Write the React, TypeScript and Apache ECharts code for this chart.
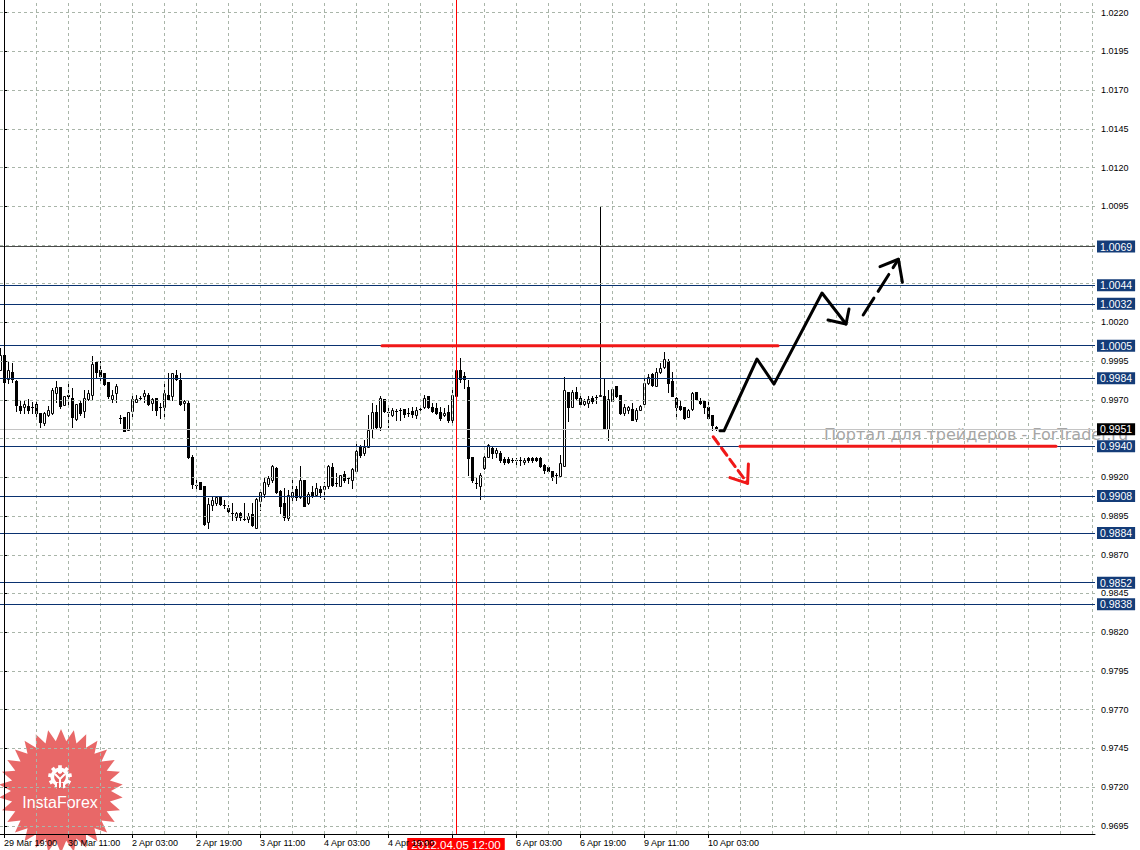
import React, { useEffect, useRef } from "react";
import * as echarts from "echarts";

// ---------- data (EUR/CHF H1, 29 Mar – 10 Apr 2012) ----------
// bar index 0 = 29 Mar 19:00; first visible bar is index -1 (29 Mar 18:00)
const firstBar = -1;
// each entry: [open, close, low, high]
const mar29 = [
  [0.99893, 0.9999, 0.99893, 1.00033],
  [0.9999, 0.99818, 0.99818, 1.00001],
  [0.99833, 0.99893, 0.99807, 0.99947],
  [0.99878, 0.99833, 0.99818, 0.99936],
  [0.99823, 0.99668, 0.99629, 0.99829],
  [0.99661, 0.99636, 0.99618, 0.99694],
];
const mar30 = [
  [0.99651, 0.99674, 0.99618, 0.99694],
  [0.99661, 0.99636, 0.99618, 0.99704],
  [0.99657, 0.99657, 0.99618, 0.99689],
  [0.99674, 0.99618, 0.99586, 0.99689],
  [0.99618, 0.9956, 0.99524, 0.99618],
  [0.9955, 0.99618, 0.99539, 0.99625],
  [0.99603, 0.99636, 0.99597, 0.99661],
  [0.99618, 0.99764, 0.9961, 0.99775],
  [0.99747, 0.99786, 0.99689, 0.99823],
  [0.99786, 0.99661, 0.99646, 0.99786],
  [0.99668, 0.99726, 0.99668, 0.99726],
  [0.99732, 0.99722, 0.99657, 0.99823],
  [0.99711, 0.99588, 0.99524, 0.99775],
  [0.99577, 0.99672, 0.99571, 0.99672],
  [0.99683, 0.99618, 0.99603, 0.99696],
  [0.99631, 0.99711, 0.99588, 0.99764],
  [0.99707, 0.99743, 0.997, 0.99764],
  [0.99732, 0.99932, 0.997, 0.99986],
  [0.99943, 0.99878, 0.9984, 0.99954],
  [0.99893, 0.99857, 0.99829, 0.99954],
  [0.99872, 0.99803, 0.99797, 0.99872],
  [0.99814, 0.99722, 0.99711, 0.99814],
  [0.99707, 0.99732, 0.99689, 0.99764],
  [0.99743, 0.9979, 0.99689, 0.99803],
];
const apr2 = [
  [0.99586, 0.99586, 0.9955, 0.99603],
  [0.99588, 0.99502, 0.99502, 0.99588],
  [0.99507, 0.9962, 0.99507, 0.9962],
  [0.99631, 0.99704, 0.99582, 0.99732],
  [0.99689, 0.99704, 0.99689, 0.99732],
  [0.99709, 0.99709, 0.997, 0.99722],
  [0.99722, 0.99747, 0.99689, 0.99764],
  [0.99732, 0.99672, 0.99668, 0.99743],
  [0.99679, 0.99707, 0.99636, 0.99711],
  [0.99711, 0.99636, 0.99603, 0.99711],
  [0.99657, 0.99657, 0.99582, 0.99679],
  [0.99657, 0.99743, 0.99582, 0.99818],
  [0.99732, 0.99707, 0.997, 0.99872],
  [0.99722, 0.99872, 0.997, 0.99872],
  [0.99861, 0.99833, 0.99829, 0.99893],
  [0.99829, 0.99672, 0.99668, 0.99872],
  [0.99679, 0.99694, 0.99636, 0.997],
  [0.99679, 0.9933, 0.99324, 0.99694],
  [0.9933, 0.99158, 0.9913, 0.99345],
  [0.99151, 0.99151, 0.9913, 0.99184],
  [0.99167, 0.99126, 0.99126, 0.99173],
  [0.99145, 0.989, 0.98894, 0.99145],
  [0.98909, 0.99027, 0.98872, 0.99065],
  [0.99023, 0.99055, 0.9899, 0.99076],
];
const apr3 = [
  [0.99033, 0.9907, 0.99023, 0.99076],
  [0.99072, 0.99029, 0.99023, 0.99076],
  [0.99023, 0.99023, 0.99001, 0.99055],
  [0.99001, 0.9898, 0.98958, 0.99023],
  [0.98969, 0.98969, 0.98926, 0.99033],
  [0.98947, 0.98969, 0.98926, 0.98973],
  [0.98969, 0.98941, 0.98926, 0.98973],
  [0.9893, 0.9893, 0.98922, 0.99033],
  [0.9893, 0.98952, 0.98909, 0.98969],
  [0.98965, 0.98889, 0.98883, 0.99033],
  [0.98872, 0.99059, 0.98872, 0.99065],
  [0.9905, 0.99108, 0.9899, 0.99115],
  [0.99093, 0.99167, 0.99076, 0.99195],
  [0.99158, 0.99195, 0.99141, 0.99206],
  [0.99184, 0.99274, 0.99173, 0.99281],
  [0.99259, 0.99108, 0.99098, 0.99266],
  [0.99113, 0.99018, 0.98969, 0.99119],
  [0.99033, 0.98947, 0.98926, 0.9913],
  [0.98937, 0.99087, 0.98926, 0.99119],
  [0.99072, 0.99108, 0.99055, 0.99184],
  [0.99123, 0.99076, 0.99055, 0.99141],
  [0.99076, 0.99184, 0.99065, 0.99274],
  [0.99184, 0.99018, 0.99018, 0.99184],
  [0.99033, 0.99091, 0.99029, 0.99108],
];
const apr4 = [
  [0.99108, 0.9908, 0.99072, 0.99141],
  [0.99087, 0.99134, 0.9908, 0.99162],
  [0.99126, 0.99108, 0.99076, 0.99141],
  [0.99126, 0.99145, 0.99059, 0.99173],
  [0.99141, 0.99276, 0.9913, 0.99281],
  [0.99266, 0.99151, 0.99141, 0.99292],
  [0.99162, 0.99162, 0.99145, 0.99227],
  [0.99145, 0.99216, 0.99141, 0.99216],
  [0.99221, 0.99184, 0.99173, 0.99238],
  [0.99195, 0.99195, 0.99162, 0.99195],
  [0.99184, 0.99253, 0.9913, 0.99259],
  [0.99238, 0.99367, 0.99227, 0.99421],
  [0.99395, 0.99345, 0.99334, 0.9941],
  [0.99356, 0.99395, 0.99345, 0.99442],
  [0.99399, 0.99507, 0.99399, 0.99603],
  [0.99511, 0.99625, 0.99453, 0.99679],
  [0.99625, 0.99524, 0.99517, 0.99668],
  [0.99528, 0.99711, 0.99507, 0.99722],
  [0.99704, 0.99631, 0.99625, 0.99704],
  [0.99625, 0.99625, 0.99528, 0.99657],
  [0.99603, 0.99636, 0.99597, 0.99646],
  [0.99629, 0.99629, 0.99571, 0.9964],
  [0.99636, 0.99636, 0.99571, 0.99646],
  [0.9964, 0.9961, 0.99588, 0.9964],
];
const apr5 = [
  [0.99618, 0.99618, 0.99597, 0.99646],
  [0.99631, 0.9961, 0.99592, 0.99657],
  [0.99603, 0.99636, 0.99582, 0.99657],
  [0.9964, 0.9964, 0.99625, 0.99646],
  [0.99653, 0.99711, 0.99646, 0.99732],
  [0.99726, 0.99653, 0.99646, 0.99726],
  [0.99657, 0.99631, 0.99625, 0.99683],
  [0.99646, 0.99614, 0.9961, 0.99679],
  [0.99625, 0.99582, 0.99571, 0.99657],
  [0.99603, 0.99618, 0.99597, 0.99646],
  [0.99625, 0.99571, 0.9956, 0.99668],
  [0.99567, 0.99732, 0.9956, 0.99786],
  [0.99722, 0.99893, 0.99722, 0.99904],
  [0.99893, 0.99833, 0.99818, 0.99969],
  [0.99855, 0.99833, 0.99775, 0.99883],
  [0.99786, 0.99324, 0.99216, 0.99829],
  [0.99334, 0.99184, 0.99167, 0.99334],
  [0.99162, 0.99162, 0.9913, 0.99195],
  [0.99145, 0.99216, 0.99059, 0.99227],
  [0.99259, 0.99328, 0.99253, 0.99345],
  [0.99334, 0.9941, 0.9933, 0.99414],
  [0.99388, 0.9936, 0.99324, 0.99395],
  [0.9936, 0.99378, 0.99334, 0.99388],
  [0.9936, 0.99309, 0.99302, 0.99367],
];
const apr6 = [
  [0.99319, 0.99296, 0.99287, 0.99334],
  [0.99317, 0.99302, 0.99292, 0.99334],
  [0.99313, 0.99313, 0.99296, 0.99324],
  [0.99313, 0.99313, 0.99274, 0.99324],
  [0.99309, 0.99309, 0.99281, 0.9933],
  [0.99296, 0.99313, 0.99287, 0.99324],
  [0.99324, 0.99309, 0.99302, 0.9933],
  [0.99324, 0.99309, 0.99302, 0.99328],
  [0.99324, 0.99309, 0.99304, 0.99328],
  [0.99324, 0.9927, 0.99264, 0.99328],
  [0.99281, 0.99249, 0.99231, 0.99287],
  [0.99264, 0.99244, 0.99231, 0.9927],
  [0.99238, 0.99201, 0.9918, 0.99238],
  [0.99216, 0.99216, 0.99162, 0.99231],
  [0.9921, 0.99292, 0.99206, 0.99346],
  [0.99271, 0.99765, 0.99271, 0.99845],
  [0.99748, 0.99653, 0.99561, 0.99754],
  [0.99657, 0.99748, 0.99653, 0.99765],
  [0.99748, 0.99711, 0.99705, 0.9978],
  [0.99711, 0.99675, 0.99675, 0.99722],
  [0.99675, 0.99696, 0.99668, 0.99705],
  [0.99679, 0.99705, 0.99653, 0.99722],
  [0.99711, 0.9969, 0.99679, 0.99722],
  [0.99716, 0.99716, 0.99679, 0.99733],
];
const apr9 = [
  [0.99722, 0.99733, 0.99722, 1.00948],
  [0.99722, 0.99518, 0.99518, 0.9984],
  [0.99511, 0.99705, 0.99443, 0.99765],
  [0.99696, 0.99769, 0.9969, 0.99776],
  [0.99787, 0.99722, 0.99718, 0.99791],
  [0.99733, 0.99615, 0.9961, 0.99733],
  [0.99615, 0.99653, 0.99604, 0.99675],
  [0.99632, 0.99653, 0.99615, 0.99662],
  [0.9964, 0.99567, 0.99567, 0.99679],
  [0.99576, 0.99636, 0.99561, 0.99646],
  [0.99636, 0.99662, 0.99632, 0.99668],
  [0.99675, 0.99808, 0.99668, 0.99855],
  [0.99808, 0.99851, 0.99804, 0.99868],
  [0.99868, 0.99797, 0.99791, 0.99873],
  [0.99791, 0.99877, 0.99787, 0.99904],
  [0.99877, 0.99905, 0.99873, 0.99941],
  [0.99911, 0.99963, 0.99905, 1.00012],
  [0.99952, 0.99808, 0.99748, 0.99963],
  [0.99819, 0.99722, 0.99722, 0.99883],
  [0.99711, 0.99653, 0.99597, 0.99718],
  [0.99662, 0.9964, 0.99636, 0.9969],
  [0.99657, 0.99582, 0.99576, 0.99657],
  [0.99589, 0.99636, 0.99589, 0.9964],
  [0.9964, 0.99744, 0.99636, 0.99748],
];
const apr10 = [
  [0.99748, 0.99705, 0.99701, 0.99754],
  [0.99696, 0.99679, 0.99675, 0.99711],
  [0.9969, 0.99653, 0.99615, 0.99696],
  [0.99653, 0.99582, 0.99576, 0.9969],
  [0.99604, 0.99539, 0.99507, 0.99604],
  [0.99524, 0.9951, 0.99507, 0.99533],
];

// axis
const timeTickValues = [0, 16, 32, 48, 64, 80, 96, 112, 128, 144, 160, 176];
const timeTickLabels = [
  "29 Mar 19:00", "30 Mar 11:00", "2 Apr 03:00", "2 Apr 19:00", "3 Apr 11:00",
  "4 Apr 03:00", "4 Apr 19:00", "", "6 Apr 03:00", "6 Apr 19:00",
  "9 Apr 11:00", "10 Apr 03:00",
];
const priceGrid = [
  1.022, 1.0195, 1.017, 1.0145, 1.012, 1.0095, 1.007, 1.0045, 1.002, 0.9995,
  0.997, 0.9945, 0.992, 0.9895, 0.987, 0.9845, 0.982, 0.9795, 0.977, 0.9745,
  0.972, 0.9695,
];
const priceLabels = [
  1.022, 1.0195, 1.017, 1.0145, 1.012, 1.0095, 1.002, 0.9995, 0.997, 0.992,
  0.9895, 0.987, 0.9845, 0.982, 0.9795, 0.977, 0.9745, 0.972, 0.9695,
];
const yMin = 0.96897;
const yMax = 1.02282;
const xMin = -1;
const xMax = 272.75;

// horizontal levels
const levels = [1.0069, 1.0044, 1.0032, 1.0005, 0.9984, 0.994, 0.9908, 0.9884, 0.9852, 0.9838];
const bidPrice = 0.9951;
const markerBar = 113;
const markerLabel = "2012.04.05 12:00";

// hand drawings [bar, price]
const resistance = [[94.5, 1.0005], [193.5, 1.0005]];
const support = [[184, 0.994], [263, 0.994]];
const forecastUp = [[179, 0.995], [180, 0.995], [188.25, 0.99964], [192.5, 0.99802], [204.5, 1.0039], [210.5, 1.0019]];
const forecastUpHead = [[206, 1.00216], [210.5, 1.0019], [211.25, 1.00287]];
const forecastUp2 = [[214.8, 1.00248], [223.6, 1.00608]];
const forecastUp2Head = [[219, 1.0056], [223.6, 1.00608], [224.6, 1.00459]];
const forecastDown = [[177.3, 0.99462], [185.9, 0.99161]];
const forecastDownHead = [[181.5, 0.99198], [185.9, 0.99161], [186.1, 0.99286]];

const days = [mar29, mar30, apr2, apr3, apr4, apr5, apr6, apr9, apr10];

const FONT = "Liberation Sans, Arial, sans-serif";

function buildCandles() {
  const out: number[][] = [];
  let t = firstBar;
  for (const d of days) {
    for (const b of d) {
      out.push([t, b[0], b[1], b[2], b[3]]);
      t += 1;
    }
  }
  return out;
}

function starPoints(cx: number, cy: number, ro: number, ri: number, n: number) {
  const pts: number[][] = [];
  for (let i = 0; i < n * 2; i++) {
    const r = i % 2 === 0 ? ro : ri;
    const a = (Math.PI * i) / n - Math.PI / 2;
    pts.push([cx + r * Math.cos(a), cy + r * Math.sin(a)]);
  }
  return pts;
}

function gearPoints(cx: number, cy: number, ro: number, ri: number, n: number) {
  const pts: number[][] = [];
  const step = (Math.PI * 2) / n;
  for (let i = 0; i < n; i++) {
    const a = i * step - Math.PI / 2;
    const w = step * 0.22;
    pts.push([cx + ri * Math.cos(a - step / 2 + w), cy + ri * Math.sin(a - step / 2 + w)]);
    pts.push([cx + ro * Math.cos(a - w), cy + ro * Math.sin(a - w)]);
    pts.push([cx + ro * Math.cos(a + w), cy + ro * Math.sin(a + w)]);
    pts.push([cx + ri * Math.cos(a + step / 2 - w), cy + ri * Math.sin(a + step / 2 - w)]);
  }
  return pts;
}

export default function App() {
  const ref = useRef<HTMLDivElement>(null);
  useEffect(() => {
    if (!ref.current) return;
    const chart = echarts.init(ref.current, undefined, { renderer: "svg" });
    const candles = buildCandles();

    const vGrid: any[] = [];
    for (let v = 0; v <= xMax; v += 8) vGrid.push({ xAxis: v });
    const hGrid = priceGrid.map((v) => ({ yAxis: v }));

    const levelData: any[] = levels.map((v, i) => ({
      yAxis: v,
      lineStyle: { color: i === 0 ? "#4a4a4a" : "#0a3270", width: 1, type: "solid" },
      label: {
        show: true,
        position: "end",
        distance: 2,
        formatter: () => v.toFixed(4),
        backgroundColor: "#143c78",
        color: "#ffffff",
        fontFamily: FONT,
        fontSize: 10.5,
        padding: [1, 3, 0, 3],
        lineHeight: 11,
      },
    }));
    levelData.push({
      yAxis: bidPrice,
      lineStyle: { color: "#c4c4c4", width: 1, type: "solid" },
      label: {
        show: true,
        position: "end",
        distance: 2,
        formatter: () => bidPrice.toFixed(4),
        backgroundColor: "#000000",
        color: "#ffffff",
        fontFamily: FONT,
        fontSize: 10.5,
        padding: [1, 3, 0, 3],
        lineHeight: 11,
      },
    });

    const lineSeries = (name: string, data: number[][], color: string, type: any, z: number) => ({
      name,
      type: "line",
      data,
      symbol: "none",
      silent: true,
      z,
      zlevel: 0,
      lineStyle: { color, width: 3, type, cap: "round", join: "round" },
    });

    const logoCx = 61;
    const logoCy = 791;
    const gearCy = 777;

    chart.setOption({
      animation: false,
      backgroundColor: "#ffffff",
      grid: { left: 0, top: 0, right: 45, bottom: 16, containLabel: false },
      xAxis: {
        type: "value",
        min: xMin,
        max: xMax,
        z: 5,
        axisLine: { show: true, onZero: false, lineStyle: { color: "#000", width: 1 } },
        axisTick: { show: true, length: 4, customValues: timeTickValues, lineStyle: { color: "#000" } },
        axisLabel: {
          customValues: timeTickValues,
          formatter: (v: number) => timeTickLabels[timeTickValues.indexOf(Math.round(v))] ?? "",
          align: "left",
          margin: 4,
          fontSize: 9,
          fontFamily: FONT,
          color: "#000",
        },
        splitLine: { show: false },
      },
      yAxis: {
        type: "value",
        position: "right",
        min: yMin,
        max: yMax,
        z: 5,
        axisLine: { show: true, lineStyle: { color: "#000", width: 1 } },
        axisTick: { show: true, length: 3, customValues: priceLabels, lineStyle: { color: "#000" } },
        axisLabel: {
          customValues: priceLabels,
          formatter: (v: number) => v.toFixed(4),
          margin: 6,
          fontSize: 9,
          fontFamily: FONT,
          color: "#000",
        },
        splitLine: { show: false },
      },
      series: [
        {
          name: "grid",
          type: "line",
          data: [],
          z: 1,
          silent: true,
          markLine: {
            silent: true,
            symbol: ["none", "none"],
            animation: false,
            precision: 4,
            label: { show: false },
            emphasis: { disabled: true },
            lineStyle: { color: "#a9b5a9", width: 1, type: [3, 3] },
            data: [...vGrid, ...hGrid],
          },
        },
        {
          name: "levels",
          type: "line",
          data: [],
          z: 2,
          silent: true,
          markLine: {
            silent: true,
            symbol: ["none", "none"],
            animation: false,
            precision: 4,
            emphasis: { disabled: true },
            data: levelData,
          },
        },
        {
          name: "EURCHF",
          type: "custom",
          z: 3,
          silent: true,
          data: candles,
          encode: { x: 0, y: [1, 2, 3, 4] },
          renderItem: (params: any, api: any) => {
            const t = api.value(0);
            const o = api.value(1);
            const c = api.value(2);
            const l = api.value(3);
            const h = api.value(4);
            const px = api.coord([t, o]);
            const cx = Math.round(px[0]);
            const yo = px[1];
            const yc = api.coord([t, c])[1];
            const yl = Math.round(api.coord([t, l])[1]);
            const yh = Math.round(api.coord([t, h])[1]);
            const top = Math.round(Math.min(yo, yc));
            const bot = Math.round(Math.max(yo, yc));
            const children: any[] = [
              { type: "rect", shape: { x: cx, y: yh, width: 1, height: Math.max(1, yl - yh + 1) }, style: { fill: "#000" } },
            ];
            if (bot - top < 1) {
              children.push({ type: "rect", shape: { x: cx - 1, y: top, width: 3, height: 1 }, style: { fill: "#000" } });
            } else if (c < o) {
              children.push({ type: "rect", shape: { x: cx - 1, y: top, width: 3, height: bot - top + 1 }, style: { fill: "#000" } });
            } else {
              children.push({
                type: "rect",
                shape: { x: cx - 0.5, y: top + 0.5, width: 2, height: bot - top },
                style: { fill: "#fff", stroke: "#000", lineWidth: 1 },
              });
            }
            return { type: "group", children };
          },
        },
        lineSeries("resistance", resistance, "#f01818", "solid", 10),
        lineSeries("support", support, "#f01818", "solid", 10),
        lineSeries("forecastUp", forecastUp, "#000000", "solid", 10),
        lineSeries("forecastUpHead", forecastUpHead, "#000000", "solid", 10),
        lineSeries("forecastUp2", forecastUp2, "#000000", [20, 8], 10),
        lineSeries("forecastUp2Head", forecastUp2Head, "#000000", "solid", 10),
        lineSeries("forecastDown", forecastDown, "#f01818", [9, 5], 10),
        lineSeries("forecastDownHead", forecastDownHead, "#f01818", "solid", 10),
        {
          name: "marker",
          type: "line",
          data: [],
          z: 11,
          silent: true,
          markLine: {
            silent: true,
            symbol: ["none", "none"],
            animation: false,
            emphasis: { disabled: true },
            lineStyle: { color: "#ff0000", width: 1, type: "solid" },
            label: {
              show: true,
              position: "start",
              distance: 4,
              formatter: markerLabel,
              backgroundColor: "#ff0000",
              color: "#ffffff",
              fontFamily: FONT,
              fontSize: 11.5,
              padding: [1, 4, 1, 4],
            },
            data: [{ xAxis: markerBar }],
          },
        },
      ],
      graphic: [
        {
          type: "text",
          z: 1,
          silent: true,
          left: 824,
          top: 426,
          style: {
            text: "Портал для трейдеров - ForTrader.ru",
            fill: "#a6a6a6",
            font: "16px DejaVu Sans, sans-serif",
          },
        },
        {
          type: "group",
          z: 4,
          silent: true,
          children: [
            {
              type: "polygon",
              shape: { points: starPoints(logoCx, logoCy, 62, 50, 30) },
              style: { fill: "rgba(225, 62, 62, 0.78)" },
            },
            {
              type: "polygon",
              shape: { points: gearPoints(logoCx - 1, gearCy, 12, 9.5, 9) },
              style: { fill: "#ffffff" },
            },
            { type: "circle", shape: { cx: logoCx - 1, cy: gearCy, r: 5.8 }, style: { fill: "#e56060" } },
            { type: "rect", shape: { x: logoCx - 4, y: gearCy + 6, width: 6, height: 6 }, style: { fill: "#e56060" } },
            { type: "circle", shape: { cx: logoCx - 1, cy: gearCy - 5.5, r: 2.3 }, style: { fill: "#ffffff" } },
            {
              type: "polyline",
              shape: { points: [[logoCx - 6, gearCy - 3], [logoCx - 1, gearCy + 2], [logoCx + 4, gearCy - 3]] },
              style: { stroke: "#ffffff", lineWidth: 2, fill: "none" },
            },
            { type: "rect", shape: { x: logoCx - 2, y: gearCy + 1, width: 2, height: 10 }, style: { fill: "#ffffff" } },
            {
              type: "text",
              style: {
                text: "InstaForex",
                x: logoCx - 1,
                y: 802,
                align: "center",
                verticalAlign: "middle",
                fill: "#ffffff",
                font: "16px Liberation Sans, Arial, sans-serif",
              },
            },
          ],
        },
      ],
    });
    return () => chart.dispose();
  }, []);
  return (
    <div
      ref={ref}
      style={{ position: "fixed", left: 0, top: 0, width: 1140, height: 850, background: "#fff" }}
    />
  );
}
